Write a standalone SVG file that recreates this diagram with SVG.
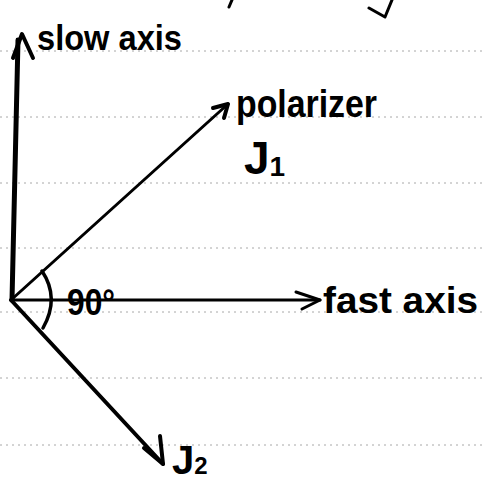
<svg xmlns="http://www.w3.org/2000/svg" width="482" height="485" viewBox="0 0 482 485">
<style>
.rule{stroke:#a8a8a8;stroke-width:1;stroke-dasharray:2 4;fill:none}
.ink{stroke:#000;fill:none;stroke-linecap:round;stroke-linejoin:round}
.lbl{font-family:"Liberation Sans",Arial,sans-serif;font-weight:bold;fill:#000}
</style>
<rect width="482" height="485" fill="#fff"/>
<g id="paper-rules">
<line class="rule" x1="0" y1="51" x2="482" y2="51"/>
<line class="rule" x1="0" y1="117" x2="482" y2="117"/>
<line class="rule" x1="0" y1="183" x2="482" y2="183"/>
<line class="rule" x1="0" y1="248" x2="482" y2="248"/>
<line class="rule" x1="0" y1="312" x2="482" y2="312"/>
<line class="rule" x1="0" y1="378" x2="482" y2="378"/>
<line class="rule" x1="0" y1="445" x2="482" y2="445"/>
</g>
<g id="top-fragments" class="ink">
<path d="M232 0 L229 7" stroke-width="3"/>
<path d="M369 8 L385 17 L392 0" stroke-width="3"/>
</g>
<g id="connectors" class="ink">
<g id="slow-axis-arrow">
<path d="M12 300 L18 40" stroke-width="5"/>
<path d="M13 58 L22 34 L33 58" stroke-width="4"/>
</g>
<g id="polarizer-arrow">
<path d="M11 300 L228 104" stroke-width="3"/>
<path d="M213 108 L228 104 L224 118" stroke-width="4"/>
</g>
<g id="fast-axis-arrow">
<path d="M11 300 L320 300" stroke-width="3"/>
<path d="M296 292 L320 300 L302 309" stroke-width="3"/>
</g>
<g id="j2-arrow">
<path d="M11 300 L163 464" stroke-width="4"/>
<path d="M160 436 L163 464 L144 448" stroke-width="4"/>
</g>
<g id="angle-arc">
<path d="M42 271 Q60 298 43 328" stroke-width="3.5"/>
</g>
</g>
<g id="slow-axis-label"><text class="lbl" x="37" y="50" font-size="35" textLength="145" lengthAdjust="spacingAndGlyphs">slow axis</text></g>
<g id="polarizer-label"><text class="lbl" x="236" y="117" font-size="38" textLength="141" lengthAdjust="spacingAndGlyphs">polarizer</text></g>
<g id="j1-label"><text class="lbl" x="244" y="174" font-size="46">J<tspan font-size="28" dy="2">1</tspan></text></g>
<g id="angle-label"><text class="lbl" x="67" y="315" font-size="36" textLength="48" lengthAdjust="spacingAndGlyphs">90°</text></g>
<g id="fast-axis-label"><text class="lbl" x="323" y="313" font-size="36" textLength="155" lengthAdjust="spacingAndGlyphs">fast axis</text></g>
<g id="j2-label"><text class="lbl" x="172" y="474" font-size="40">J<tspan font-size="24">2</tspan></text></g>
</svg>
